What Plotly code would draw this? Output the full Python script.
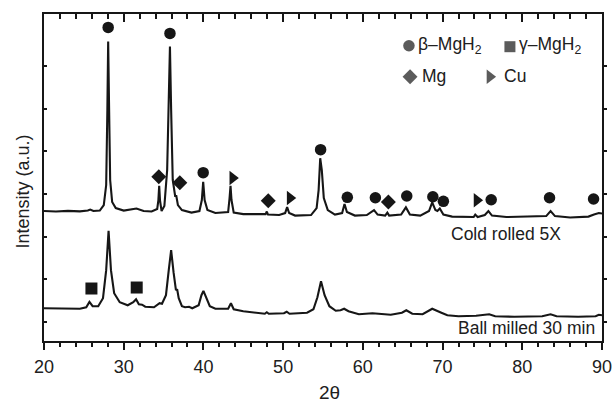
import plotly.graph_objects as go

# ---------------- data ----------------
# Cold rolled 5X pattern (upper curve): 2-theta (deg) and intensity (a.u.)
two_theta_cold = [20, 21.5, 23, 24.5, 25.5, 25.8, 26.2, 27, 27.5, 27.8, 27.95, 28.05, 28.15, 28.3,
                  28.55, 29, 30, 31.3, 31.6, 32.5, 33.5, 34.2, 34.35, 34.45, 34.55, 34.75, 35.1,
                  35.45, 35.65, 35.8, 35.95, 36.15, 36.45, 36.6, 36.8, 37.3, 38.5, 39.5, 39.8,
                  39.97, 40.15, 40.5, 41.5, 43.1, 43.28, 43.4, 43.52, 43.8, 45, 47, 47.8, 47.95,
                  48.1, 49.5, 50.25, 50.5, 50.75, 51.5, 53.5, 54.2, 54.45, 54.65, 54.85, 55.1,
                  55.6, 56.5, 57.4, 57.7, 58.0, 59, 60.5, 61.4, 61.85, 62.8, 63.07, 63.3, 64.8,
                  65.4, 65.9, 67.2, 68.3, 68.7, 69.1, 69.35, 69.65, 70.1, 71.2, 73.9, 74.1, 74.4,
                  75.3, 75.75, 76.2, 78, 80.5, 83, 83.55, 84.1, 86, 88.3, 89.0, 89.6, 90]
intensity_cold = [2599, 2587, 2603, 2592, 2610, 2634, 2599, 2610, 2739, 3209, 4969, 6573, 5204, 3326,
                  2810, 2669, 2610, 2634, 2657, 2599, 2587, 2645, 2857, 3192, 2857, 2599, 2716,
                  3561, 5204, 6455, 4969, 3326, 2951, 2951, 2739, 2622, 2563, 2599, 2857,
                  3286, 2857, 2622, 2552, 2575, 2904, 3192, 2857, 2563, 2528, 2516, 2528, 2587,
                  2516, 2505, 2552, 2692, 2552, 2493, 2505, 2669, 3091, 3836, 3561, 2904,
                  2622, 2516, 2552, 2763, 2575, 2493, 2505, 2622, 2516, 2493, 2563, 2493, 2516,
                  2685, 2516, 2493, 2599, 2803, 2622, 2599, 2657, 2516, 2469, 2458, 2516, 2458,
                  2505, 2599, 2493, 2458, 2469, 2481, 2599, 2481, 2446, 2469, 2516, 2552, 2540]

# Ball milled 30 min pattern (lower curve)
two_theta_ball = [20, 21.5, 23, 24.5, 25.3, 25.7, 26.1, 26.8, 27.4, 27.8, 28.1, 28.4, 28.8, 29.5,
                  30.5, 31.2, 31.55, 31.9, 32.3, 32.7, 33.8, 34.5, 34.8, 35.3, 35.65, 35.95, 36.25,
                  36.55, 36.7, 36.9, 37.3, 37.7, 38.2, 38.6, 39.4, 39.75, 40.0, 40.3, 40.8, 41.5,
                  43.1, 43.45, 43.8, 45, 47.7, 47.95, 48.2, 50.1, 50.45, 50.8, 53, 53.8, 54.3,
                  54.75, 55.2, 55.8, 56.6, 57.2, 57.65, 58.2, 59.5, 61.2, 61.8, 62.8, 63.5, 64.9,
                  65.45, 66.2, 67.5, 68.7, 69.3, 69.85, 70.6, 72, 74.2, 75.85, 76.6, 79, 82.5,
                  83.55, 84.3, 87, 89.2, 89.6, 90]
intensity_ball = [322, 315, 322, 310, 345, 469, 369, 369, 556, 1214, 2136, 1214, 674, 462,
                  392, 462, 533, 415, 404, 357, 345, 439, 427, 627, 1214, 1683, 1167,
                  744, 768, 556, 369, 345, 357, 322, 392, 627, 728, 580, 369, 310,
                  310, 439, 298, 251, 192, 228, 192, 204, 239, 192, 216, 298, 580,
                  955, 627, 369, 263, 275, 310, 251, 181, 204, 192, 181, 169, 216,
                  275, 192, 181, 310, 251, 216, 157, 134, 146, 181, 134, 122, 134,
                  181, 134, 122, 134, 169, 157]

# Phase markers (peak position, marker height)
beta_2theta = [28.05, 35.8, 39.97, 54.7, 58.05, 61.57, 65.51, 68.78, 70.1, 76.1, 83.42, 88.94]
beta_int = [6901, 6761, 3498, 4038, 2920, 2911, 2951, 2934, 2826, 2864, 2911, 2880]
mg_2theta = [34.4, 37.04, 48.13, 63.2]
mg_int = [3404, 3263, 2840, 2810]
cu_2theta = [43.66, 50.86, 74.3]
cu_int = [3373, 2904, 2850]
gamma_2theta = [25.95, 31.63]
gamma_int = [784, 807]

x_ticks = [20, 30, 40, 50, 60, 70, 80, 90]
y_ticks = [0, 1000, 2000, 3000, 4000, 5000, 6000]

# ---------------- figure ----------------
INK = "#161616"
TXT = "#202020"
FONT = "Liberation Sans, Arial, Helvetica, sans-serif"
X_RANGE = [20, 90]
Y_RANGE = [-446, 7216]

fig = go.Figure()
fig.add_trace(go.Scatter(x=two_theta_cold, y=intensity_cold, mode="lines",
                         line=dict(color=INK, width=2.1), showlegend=False, hoverinfo="skip"))
fig.add_trace(go.Scatter(x=two_theta_ball, y=intensity_ball, mode="lines",
                         line=dict(color=INK, width=2.1), showlegend=False, hoverinfo="skip"))

def add_markers(xs, ys, symbol, size):
    fig.add_trace(go.Scatter(x=xs, y=ys, mode="markers",
                             marker=dict(symbol=symbol, size=size, color=INK, line=dict(width=0)),
                             showlegend=False, hoverinfo="skip"))

add_markers(beta_2theta, beta_int, "circle", 11.5)
add_markers(mg_2theta, mg_int, "diamond", 11.5)
add_markers(cu_2theta, cu_int, "triangle-right", 12.5)
add_markers(gamma_2theta, gamma_int, "square", 12)

# legend keys (placed by fraction of the plot area), drawn on the mirrored top/right axes
key_fx = [0.654, 0.835, 0.656, 0.799]
key_fy = [0.903, 0.900, 0.808, 0.808]
key_sym = ["circle", "square", "diamond", "triangle-right"]
key_size = [11.5, 11, 11.5, 12.5]
key_x = [X_RANGE[0] + f * (X_RANGE[1] - X_RANGE[0]) for f in key_fx]
key_y = [Y_RANGE[0] + f * (Y_RANGE[1] - Y_RANGE[0]) for f in key_fy]
fig.add_trace(go.Scatter(x=key_x, y=key_y, xaxis="x2", yaxis="y2", mode="markers",
                         marker=dict(symbol=key_sym, size=key_size, color=INK, line=dict(width=0)),
                         showlegend=False, hoverinfo="skip"))

tickfont = dict(family=FONT, size=18, color=TXT)
fig.update_layout(
    width=613, height=402,
    margin=dict(l=44, r=11, t=14, b=61, autoexpand=False),
    paper_bgcolor="white", plot_bgcolor="white",
    xaxis=dict(range=X_RANGE, tickvals=x_ticks, ticks="outside", ticklen=7, tickwidth=2,
               tickcolor=INK, showline=True, linecolor=INK, linewidth=2.2, showgrid=False,
               zeroline=False, tickfont=tickfont, ticklabelstandoff=1, automargin=False,
               minor=dict(ticks="outside", ticklen=4, tickwidth=1.5, dtick=2, tick0=20,
                          tickcolor=INK, showgrid=False)),
    xaxis2=dict(range=X_RANGE, overlaying="x", side="top", anchor="y2", tickvals=x_ticks,
                ticks="inside", ticklen=8, tickwidth=2, tickcolor=INK, showline=True,
                linecolor=INK, linewidth=2.2, showgrid=False, zeroline=False,
                showticklabels=False, automargin=False,
                minor=dict(ticks="inside", ticklen=4.5, tickwidth=1.5, dtick=2, tick0=20,
                           tickcolor=INK, showgrid=False)),
    yaxis=dict(range=Y_RANGE, tickvals=y_ticks, ticks="inside", ticklen=3, tickwidth=1.5,
               tickcolor=INK, showline=True, linecolor=INK, linewidth=2.2, showgrid=False,
               zeroline=False, showticklabels=False, automargin=False),
    yaxis2=dict(range=Y_RANGE, overlaying="y", side="right", anchor="x2", tickvals=y_ticks,
                ticks="outside", ticklen=3, tickwidth=1.5, tickcolor=INK, showline=True,
                linecolor=INK, linewidth=2.2, showgrid=False, zeroline=False,
                showticklabels=False, automargin=False),
)

ann_font = dict(family=FONT, size=17.5, color=TXT)
annotations = [
    dict(text="Cold rolled 5X", x=0.930, y=0.3257, xanchor="right", yanchor="middle"),
    dict(text="Ball milled 30 min", x=0.9905, y=0.0398, xanchor="right", yanchor="middle"),
    dict(text="β–MgH<sub>2</sub>", x=0.6661, y=0.9037, xanchor="left", yanchor="middle"),
    dict(text="γ–MgH<sub>2</sub>", x=0.8471, y=0.9037, xanchor="left", yanchor="middle"),
    dict(text="Mg", x=0.6738, y=0.8089, xanchor="left", yanchor="middle"),
    dict(text="Cu", x=0.8203, y=0.8089, xanchor="left", yanchor="middle"),
]
for a in annotations:
    fig.add_annotation(xref="paper", yref="paper", showarrow=False, font=ann_font, **a)

fig.add_annotation(text="Intensity (a.u.)", xref="paper", yref="paper", x=-0.0379, y=0.4566,
                   textangle=-90, showarrow=False, xanchor="center", yanchor="middle",
                   font=dict(family=FONT, size=18, color=TXT))
fig.add_annotation(text="2θ", xref="paper", yref="paper", x=0.511, y=-0.156,
                   showarrow=False, xanchor="center", yanchor="middle",
                   font=dict(family=FONT, size=19, color=TXT))

fig.write_html("out.html", config={"displayModeBar": False},
               post_script="document.body.style.margin='0';document.body.style.overflow='hidden';")
